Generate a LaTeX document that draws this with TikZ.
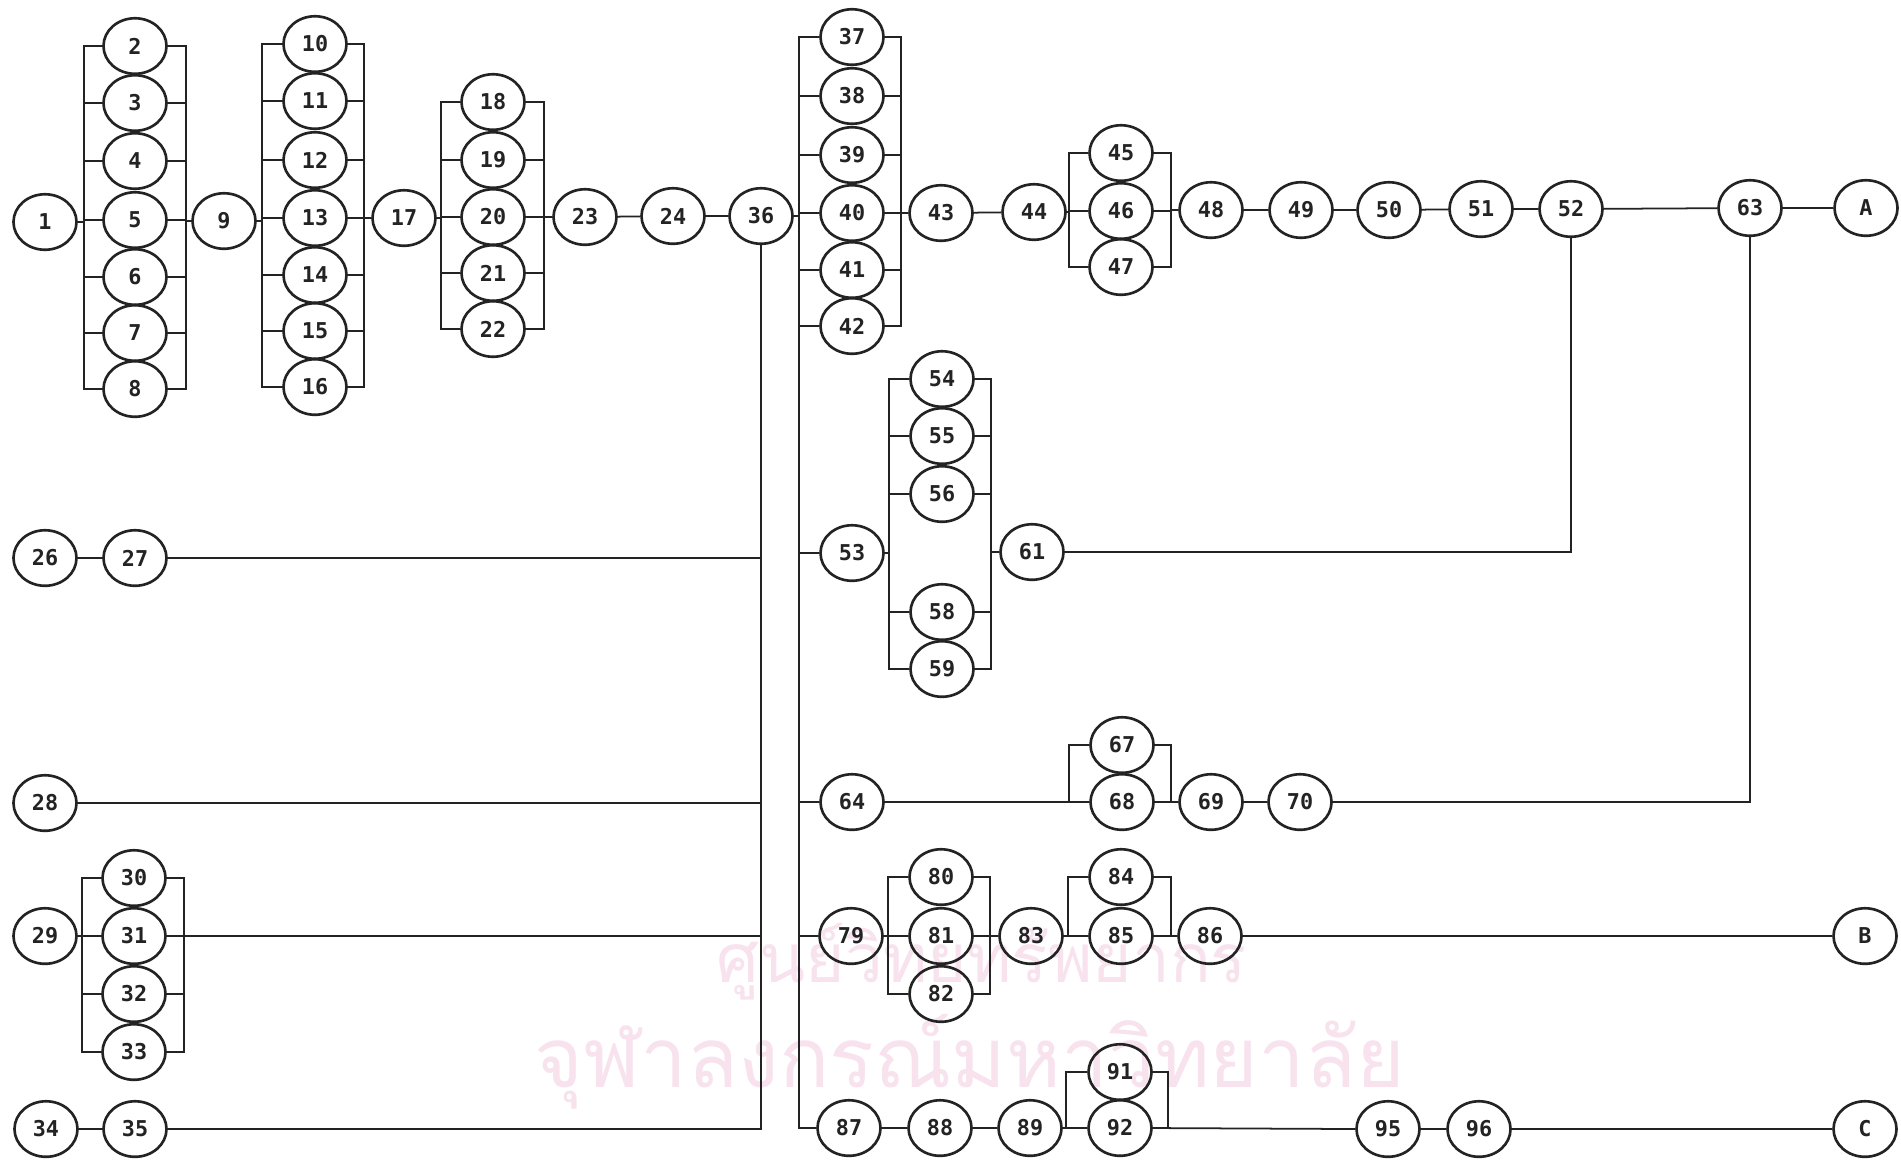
\documentclass[tikz,border=0pt]{standalone}
\usepackage{fontspec}
\usepackage{graphicx}
\usetikzlibrary{shapes.geometric}
\newfontfamily\nfont{DejaVu Sans Mono}
\newfontfamily\thaifont[Script=Thai]{Loma}
\definecolor{inkc}{RGB}{35,35,35}
\definecolor{wmark}{RGB}{247,226,238}
\newcommand\pgrp[5]{%
  \draw[ln] (n#3.west) -| (n#4.west -| #1) -- (n#4.west);
  \draw[ln] (n#3.east) -| (n#4.east -| #2) -- (n#4.east);
  \foreach \k in {#5} {\draw[ln] (n\k.west) -- (n\k.west -| #1);
                       \draw[ln] (n\k.east) -- (n\k.east -| #2);}
}
\newcommand\pgrptwo[4]{%
  \draw[ln] (n#3.west) -| (n#4.west -| #1) -- (n#4.west);
  \draw[ln] (n#3.east) -| (n#4.east -| #2) -- (n#4.east);
}
\begin{document}
\begin{tikzpicture}[x=0.01cm,y=-0.01cm,
  nd/.style={draw=inkc, ellipse, line width=0.75pt, minimum width=0.63cm,
    minimum height=0.555cm, inner sep=0pt, fill=none,
    font=\nfont\bfseries\fontsize{6.2}{7}\selectfont, text=inkc},
  ln/.style={draw=inkc, line width=0.5pt}]
\useasboundingbox (0,0) rectangle (1901,1162);
\fill[white] (0,0) rectangle (1901,1162);
% watermark
\node[text=wmark, inner sep=0] (wm1) at (982,962) {\resizebox{5.3cm}{!}{\thaifont ศูนย์วิทยทรัพยากร}};
\node[text=wmark, inner sep=0] (wm2) at (970,1062) {\resizebox{8.7cm}{!}{\thaifont จุฬาลงกรณ์มหาวิทยาลัย}};
% bracket coordinates
\coordinate (L1) at (84,0);   \coordinate (R1) at (186,0);
\coordinate (L2) at (262,0);  \coordinate (R2) at (364,0);
\coordinate (L3) at (441,0);  \coordinate (R3) at (544,0);
\coordinate (L4) at (799,0);  \coordinate (R4) at (901,0);
\coordinate (L5) at (1069,0); \coordinate (R5) at (1171,0);
\coordinate (L6) at (889,0);  \coordinate (R6) at (991,0);
\coordinate (L7) at (1069,0); \coordinate (R7) at (1171,0);
\coordinate (L8) at (82,0);   \coordinate (R8) at (184,0);
\coordinate (L9) at (888,0);  \coordinate (R9) at (990,0);
\coordinate (L10) at (1068,0);\coordinate (R10) at (1171,0);
\coordinate (L11) at (1066,0);\coordinate (R11) at (1168,0);
% row 1
\node[nd] (n1) at (45,222) {1};
\node[nd] (n2) at (135,46) {2};
\node[nd] (n3) at (135,103) {3};
\node[nd] (n4) at (135,161) {4};
\node[nd] (n5) at (135,220) {5};
\node[nd] (n6) at (135,277) {6};
\node[nd] (n7) at (135,333) {7};
\node[nd] (n8) at (135,389) {8};
\node[nd] (n9) at (224,221) {9};
\node[nd] (n10) at (315,44) {10};
\node[nd] (n11) at (315,101) {11};
\node[nd] (n12) at (315,160) {12};
\node[nd] (n13) at (315,218) {13};
\node[nd] (n14) at (315,275) {14};
\node[nd] (n15) at (315,331) {15};
\node[nd] (n16) at (315,387) {16};
\node[nd] (n17) at (404,218) {17};
\node[nd] (n18) at (493,102) {18};
\node[nd] (n19) at (493,160) {19};
\node[nd] (n20) at (493,217) {20};
\node[nd] (n21) at (493,273) {21};
\node[nd] (n22) at (493,329) {22};
\node[nd] (n23) at (585,217) {23};
\node[nd] (n24) at (673,216) {24};
\node[nd] (n36) at (761,216) {36};
\node[nd] (n37) at (852,37) {37};
\node[nd] (n38) at (852,96) {38};
\node[nd] (n39) at (852,155) {39};
\node[nd] (n40) at (852,213) {40};
\node[nd] (n41) at (852,270) {41};
\node[nd] (n42) at (852,326) {42};
\node[nd] (n43) at (941,213) {43};
\node[nd] (n44) at (1034,212) {44};
\node[nd] (n45) at (1121,153) {45};
\node[nd] (n46) at (1121,211) {46};
\node[nd] (n47) at (1121,267) {47};
\node[nd] (n48) at (1211,210) {48};
\node[nd] (n49) at (1301,210) {49};
\node[nd] (n50) at (1389,210) {50};
\node[nd] (n51) at (1481,209) {51};
\node[nd] (n52) at (1571,209) {52};
\node[nd] (n63) at (1750,208) {63};
\node[nd] (nA) at (1866,208) {A};
% middle
\node[nd] (n26) at (45,558) {26};
\node[nd] (n27) at (135,558) {27};
\node[nd] (n53) at (852,553) {53};
\node[nd] (n54) at (942,379) {54};
\node[nd] (n55) at (942,436) {55};
\node[nd] (n56) at (942,494) {56};
\node[nd] (n58) at (942,612) {58};
\node[nd] (n59) at (942,669) {59};
\node[nd] (n61) at (1032,552) {61};
\node[nd] (n28) at (45,803) {28};
\node[nd] (n64) at (852,802) {64};
\node[nd] (n67) at (1122,745) {67};
\node[nd] (n68) at (1122,802) {68};
\node[nd] (n69) at (1211,802) {69};
\node[nd] (n70) at (1300,802) {70};
% lower
\node[nd] (n29) at (45,936) {29};
\node[nd] (n30) at (134,878) {30};
\node[nd] (n31) at (134,936) {31};
\node[nd] (n32) at (134,994) {32};
\node[nd] (n33) at (134,1052) {33};
\node[nd] (n34) at (46,1129) {34};
\node[nd] (n35) at (135,1129) {35};
\node[nd] (n79) at (851,936) {79};
\node[nd] (n80) at (941,877) {80};
\node[nd] (n81) at (941,936) {81};
\node[nd] (n82) at (941,994) {82};
\node[nd] (n83) at (1031,936) {83};
\node[nd] (n84) at (1121,877) {84};
\node[nd] (n85) at (1121,936) {85};
\node[nd] (n86) at (1210,936) {86};
\node[nd] (nB) at (1865,936) {B};
\node[nd] (n87) at (849,1128) {87};
\node[nd] (n88) at (940,1128) {88};
\node[nd] (n89) at (1030,1128) {89};
\node[nd] (n91) at (1120,1072) {91};
\node[nd] (n92) at (1120,1128) {92};
\node[nd] (n95) at (1388,1129) {95};
\node[nd] (n96) at (1479,1129) {96};
\node[nd] (nC) at (1865,1129) {C};
% ---- connectors, row 1
\draw[ln] (n1.east) -- (n1.east -| L1);
\pgrp{L1}{R1}{2}{8}{3,4,5,6,7}
\draw[ln] (n9.west) -- (n9.west -| R1);
\draw[ln] (n9.east) -- (n9.east -| L2);
\pgrp{L2}{R2}{10}{16}{11,12,13,14,15}
\draw[ln] (n17.west) -- (n17.west -| R2);
\draw[ln] (n17.east) -- (n17.east -| L3);
\pgrp{L3}{R3}{18}{22}{19,20,21}
\draw[ln] (n23.west) -- (n23.west -| R3);
\draw[ln] (n23) -- (n24);
\draw[ln] (n24) -- (n36);
\draw[ln] (n36.east) -- (n36.east -| L4);
% big left line of 37-42 going down to 87
\draw[ln] (n37.west) -| (n87.west -| L4) -- (n87.west);
\foreach \k in {38,39,40,41,42,53,64,79}
  \draw[ln] (n\k.west) -- (n\k.west -| L4);
\draw[ln] (n37.east) -| (n42.east -| R4) -- (n42.east);
\foreach \k in {38,39,40,41}
  \draw[ln] (n\k.east) -- (n\k.east -| R4);
\draw[ln] (n43.west) -- (n43.west -| R4);
\draw[ln] (n43) -- (n44);
\draw[ln] (n44.east) -- (n44.east -| L5);
\pgrp{L5}{R5}{45}{47}{46}
\draw[ln] (n48.west) -- (n48.west -| R5);
\draw[ln] (n48) -- (n49);
\draw[ln] (n49) -- (n50);
\draw[ln] (n50) -- (n51);
\draw[ln] (n51) -- (n52);
\draw[ln] (n52) -- (n63);
\draw[ln] (n63) -- (nA);
% ---- 36 vertical collector
\draw[ln] (n35.east) -| (n36.south);
\draw[ln] (n27.east) -- (n27.east -| n36.south);
\draw[ln] (n28.east) -- (n28.east -| n36.south);
\draw[ln] (n31.east) -- (n31.east -| n36.south);
\draw[ln] (n26) -- (n27);
\draw[ln] (n34) -- (n35);
% 29 group
\draw[ln] (n29.east) -- (n29.east -| L8);
\pgrp{L8}{R8}{30}{33}{31,32}
% 53 group
\draw[ln] (n53.east) -- (n53.east -| L6);
\pgrp{L6}{R6}{54}{59}{55,56,58}
\draw[ln] (n61.west) -- (n61.west -| R6);
\draw[ln] (n61.east) -| (n52.south);
% 64 group
\draw[ln] (n64.east) -- (n68.west);
\pgrptwo{L7}{R7}{67}{68}
\draw[ln] (n68.east) -- (n69.west);
\draw[ln] (n69) -- (n70);
\draw[ln] (n70.east) -| (n63.south);
% 79 group
\draw[ln] (n79.east) -- (n79.east -| L9);
\pgrp{L9}{R9}{80}{82}{81}
\draw[ln] (n83.west) -- (n83.west -| R9);
\draw[ln] (n83.east) -- (n85.west);
\pgrptwo{L10}{R10}{84}{85}
\draw[ln] (n85.east) -- (n86.west);
\draw[ln] (n86) -- (nB);
% 87 row
\draw[ln] (n87) -- (n88);
\draw[ln] (n88) -- (n89);
\draw[ln] (n89.east) -- (n92.west);
\pgrptwo{L11}{R11}{91}{92}
\draw[ln] (n92.east) -- (n95.west);
\draw[ln] (n95) -- (n96);
\draw[ln] (n96) -- (nC);
\end{tikzpicture}
\end{document}
